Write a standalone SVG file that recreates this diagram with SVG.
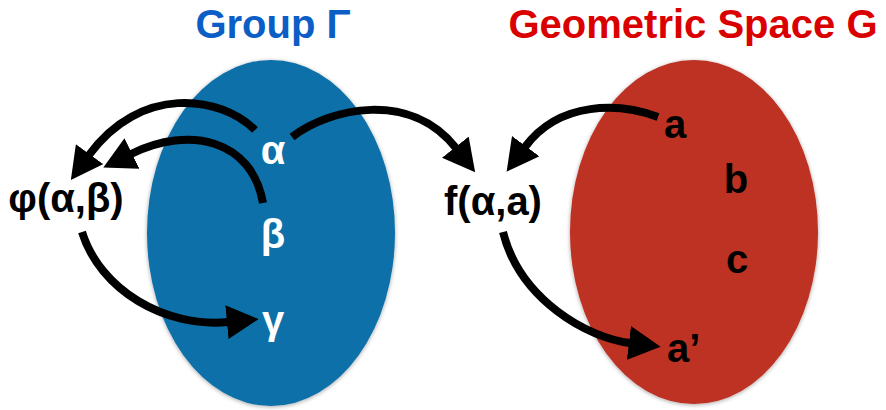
<svg xmlns="http://www.w3.org/2000/svg" width="886" height="410" viewBox="0 0 886 410">
  <defs>
    <marker id="arrow" markerUnits="userSpaceOnUse" markerWidth="32" markerHeight="34" viewBox="0 0 30 32" refX="1" refY="16" orient="auto">
      <path d="M0,0 L30,16 L0,32 Z" fill="#000"/>
    </marker>
    <filter id="shadow" x="-10%" y="-10%" width="120%" height="120%">
      <feGaussianBlur in="SourceAlpha" stdDeviation="2"/>
      <feOffset dx="0" dy="1" result="b"/>
      <feComponentTransfer><feFuncA type="linear" slope="0.35"/></feComponentTransfer>
      <feMerge><feMergeNode/><feMergeNode in="SourceGraphic"/></feMerge>
    </filter>
  </defs>
  <style>
    .title { font-family: "Liberation Sans", Arial, sans-serif; font-weight: bold; font-size: 40px; text-anchor: middle; }
    .lbl { font-family: "Liberation Sans", Arial, sans-serif; font-weight: bold; font-size: 40px; text-anchor: middle; }
    .white { fill: #ffffff; }
    .black { fill: #000000; }
    .conn { fill: none; stroke: #000; stroke-width: 8; marker-end: url(#arrow); }
  </style>

  <g id="title-group">
    <text class="title" x="273" y="38" fill="#0a5ec6">Group Γ</text>
  </g>
  <g id="title-space">
    <text class="title" x="693" y="38" fill="#db0000">Geometric Space G</text>
  </g>

  <g id="group-gamma">
    <ellipse cx="271" cy="233" rx="124" ry="173" fill="#0f70a8" filter="url(#shadow)"/>
  </g>
  <g id="space-g">
    <ellipse cx="694" cy="232" rx="124" ry="172" fill="#bd3121" filter="url(#shadow)"/>
  </g>

  <g id="connectors">
    <path class="conn" d="M255,130 C220,95 140,85 89,155"/>
    <path class="conn" d="M263,203 C252,140 190,125 131,154"/>
    <path class="conn" d="M82,232 C100,290 165,328 228,322"/>
    <path class="conn" d="M292,137 C330,108 410,90 456,148"/>
    <path class="conn" d="M658,117 C620,103 560,100 525,147"/>
    <path class="conn" d="M503,232 C520,300 588,338 630,343"/>
  </g>

  <g id="node-alpha"><text class="lbl white" x="273" y="164">α</text></g>
  <g id="node-beta"><text class="lbl white" x="273" y="248">β</text></g>
  <g id="node-gamma"><text class="lbl white" x="273" y="334">γ</text></g>
  <g id="node-phi"><text class="lbl black" x="66" y="212">φ(α,β)</text></g>
  <g id="node-f"><text class="lbl black" x="493" y="215">f(α,a)</text></g>
  <g id="node-a"><text class="lbl black" x="675" y="138">a</text></g>
  <g id="node-b"><text class="lbl black" x="736" y="193">b</text></g>
  <g id="node-c"><text class="lbl black" x="737" y="273">c</text></g>
  <g id="node-a-prime"><text class="lbl black" x="667" y="362" style="text-anchor:start">a’</text></g>
</svg>
